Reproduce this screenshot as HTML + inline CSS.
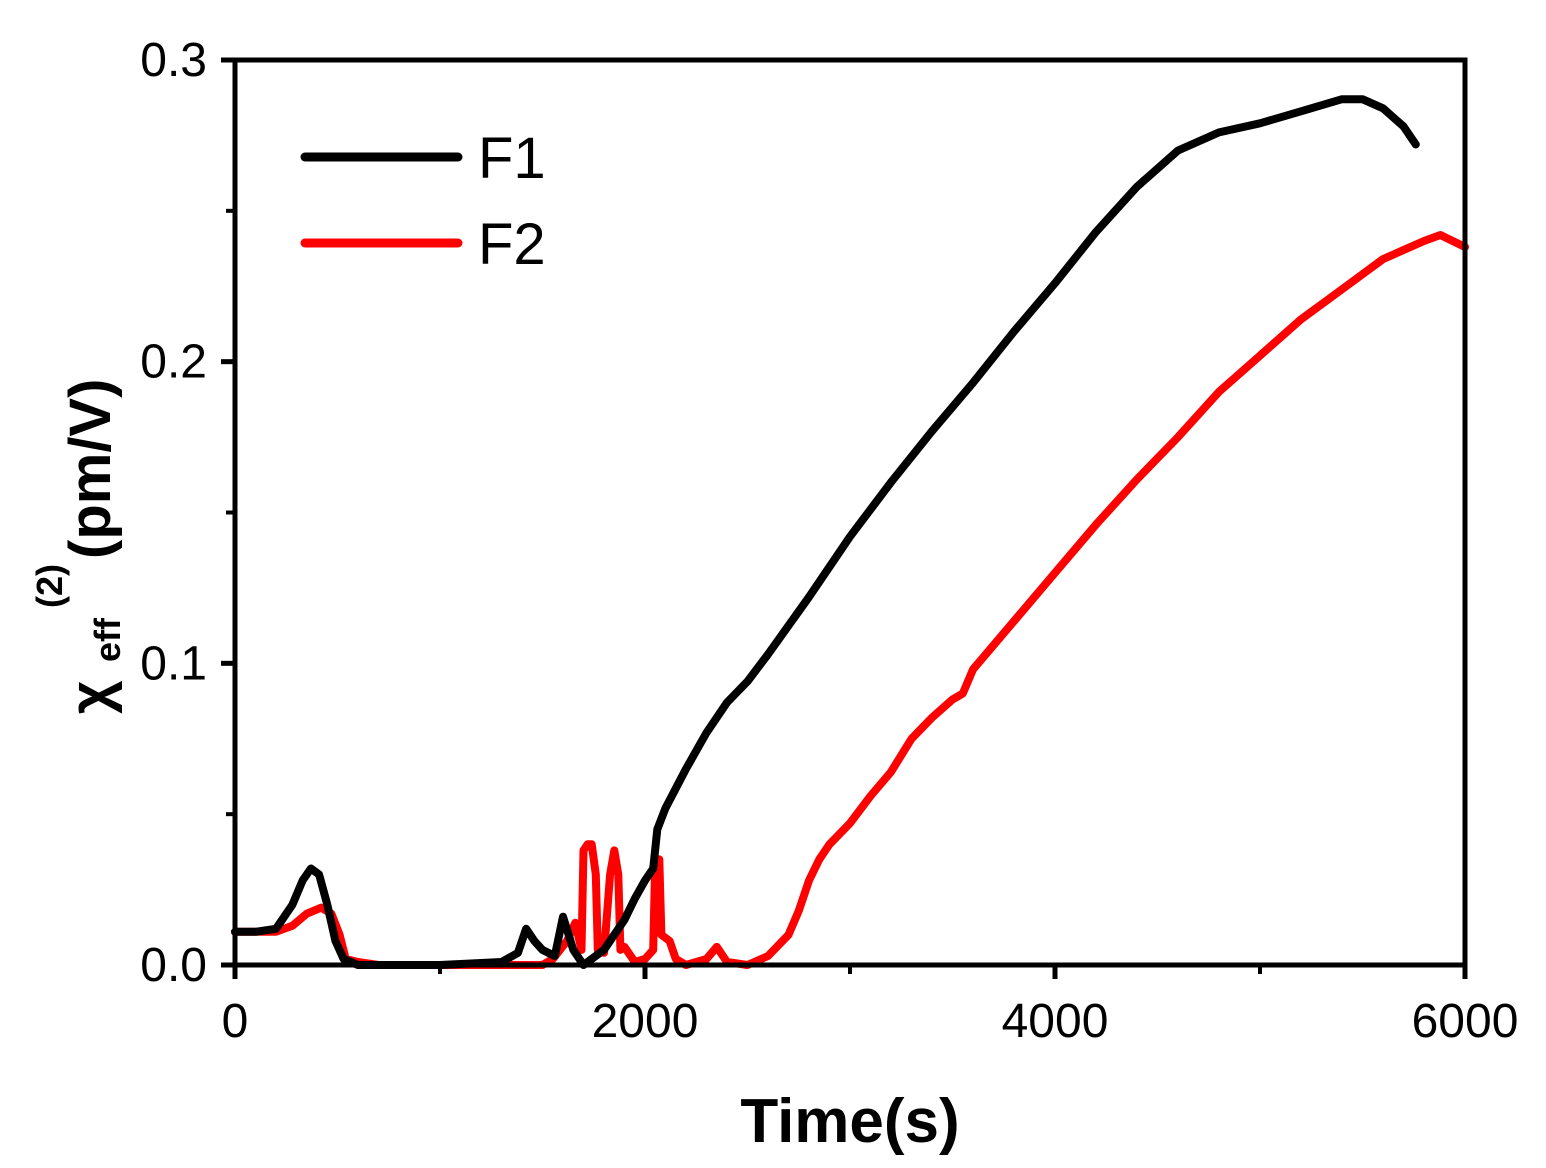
<!DOCTYPE html>
<html><head><meta charset="utf-8"><style>
html,body{margin:0;padding:0;background:#fff}
svg{display:block}
text{font-family:"Liberation Sans",sans-serif;fill:#000}
</style></head><body>
<svg id="chart" width="1546" height="1168" viewBox="0 0 1546 1168">
<g id="plot"></g>
</svg>
<script>
const f1T=[0,100,200,280,330,370,410,450,490,530,600,1000,1300,1380,1420,1460,1500,1560,1600,1650,1700,1800,1900,1950,2000,2040,2060,2100,2200,2300,2400,2500,2600,2800,3000,3200,3400,3600,3800,4000,4200,4400,4600,4800,5000,5200,5400,5500,5600,5700,5760];
const f1V=[0.011,0.011,0.012,0.02,0.028,0.032,0.03,0.02,0.008,0.002,0,0,0.001,0.004,0.012,0.008,0.005,0.003,0.016,0.005,0,0.005,0.015,0.022,0.028,0.032,0.045,0.052,0.065,0.077,0.087,0.094,0.103,0.122,0.142,0.16,0.177,0.193,0.21,0.226,0.243,0.258,0.27,0.276,0.279,0.283,0.287,0.287,0.284,0.278,0.272];
const f2T=[0,200,280,350,420,470,510,540,600,700,1500,1550,1620,1660,1690,1700,1720,1740,1760,1770,1800,1830,1850,1870,1880,1900,1950,2000,2040,2050,2070,2080,2120,2150,2200,2300,2350,2400,2500,2600,2700,2750,2800,2850,2900,3000,3100,3200,3300,3400,3500,3550,3600,3800,4000,4200,4400,4600,4800,5000,5200,5400,5600,5800,5880,6000];
const f2V=[0.011,0.011,0.013,0.017,0.019,0.017,0.01,0.002,0.001,0,0,0.002,0.008,0.014,0.005,0.038,0.04,0.04,0.03,0.005,0.004,0.03,0.038,0.03,0.005,0.006,0.001,0.002,0.005,0.035,0.035,0.01,0.008,0.002,0,0.002,0.006,0.001,0,0.003,0.01,0.018,0.028,0.035,0.04,0.047,0.056,0.064,0.075,0.082,0.088,0.09,0.098,0.114,0.13,0.146,0.161,0.175,0.19,0.202,0.214,0.224,0.234,0.24,0.242,0.238];
const xTicks=[0,2000,4000,6000];
const xTickLabels=["0","2000","4000","6000"];
const yTicks=[0,0.1,0.2,0.3];
const yTickLabels=["0.0","0.1","0.2","0.3"];

const X0=235,X1=1465,Y0=965,Y1=60;
const sx=t=>X0+(t/6000)*(X1-X0);
const sy=v=>Y0-(v/0.3)*(Y0-Y1);
const NS="http://www.w3.org/2000/svg";
const g=document.getElementById('plot');
function mk(tag,attrs){const e=document.createElementNS(NS,tag);for(const k in attrs)e.setAttribute(k,attrs[k]);g.appendChild(e);return e;}

function series(T,V,color,name){
  const d=T.map((t,i)=>(i?'L':'M')+sx(t).toFixed(1)+','+sy(V[i]).toFixed(1)).join(' ');
  const p=mk('path',{d:d,fill:'none',stroke:color,'stroke-width':8,'stroke-linejoin':'round','stroke-linecap':'round'});
  
  
}
series(f2T,f2V,'#f00','series-f2');
series(f1T,f1V,'#000','series-f1');

const fr=mk('rect',{x:X0,y:Y1,width:X1-X0,height:Y0-Y1,fill:'none',stroke:'#000','stroke-width':5});



xTicks.forEach((t,i)=>{
  mk('line',{x1:sx(t),y1:Y0,x2:sx(t),y2:Y0+14,stroke:'#000','stroke-width':5});
  const tx=mk('text',{x:sx(t),y:Y0+72,'font-size':48,'text-anchor':'middle'});
  tx.textContent=xTickLabels[i];
  
  
});
[1000,3000,5000].forEach(t=>mk('line',{x1:sx(t),y1:Y0,x2:sx(t),y2:Y0+9,stroke:'#000','stroke-width':4}));
yTicks.forEach((v,i)=>{
  mk('line',{x1:X0-14,y1:sy(v),x2:X0,y2:sy(v),stroke:'#000','stroke-width':5});
  const tx=mk('text',{x:X0-28,y:sy(v)+16,'font-size':48,'text-anchor':'end'});
  tx.textContent=yTickLabels[i];
  
  
});
[0.05,0.15,0.25].forEach(v=>mk('line',{x1:X0-9,y1:sy(v),x2:X0,y2:sy(v),stroke:'#000','stroke-width':4}));

[['F1','#000',157],['F2','#f00',243]].forEach(([n,c,y])=>{
  const l=mk('line',{x1:305,y1:y,x2:458,y2:y,stroke:c,'stroke-width':9,'stroke-linecap':'round'});
  
  
  const t=mk('text',{x:478,y:y+21,'font-size':58});
  t.textContent=n;
  
  
});

const xt=mk('text',{x:850,y:1142,'font-size':62,'font-weight':'bold','text-anchor':'middle'});
xt.textContent='Time(s)';



const yt=document.createElementNS(NS,'text');
yt.setAttribute('transform','translate(110,714) rotate(-90)');
yt.setAttribute('font-size','58');
yt.setAttribute('font-weight','bold');
yt.innerHTML='<tspan x="0" y="0">χ</tspan><tspan x="52" y="10" font-size="36">eff</tspan><tspan x="106" y="-48" font-size="36">(2)</tspan><tspan x="155" y="0">(pm/V)</tspan>';


g.appendChild(yt);
</script>
</body></html>
